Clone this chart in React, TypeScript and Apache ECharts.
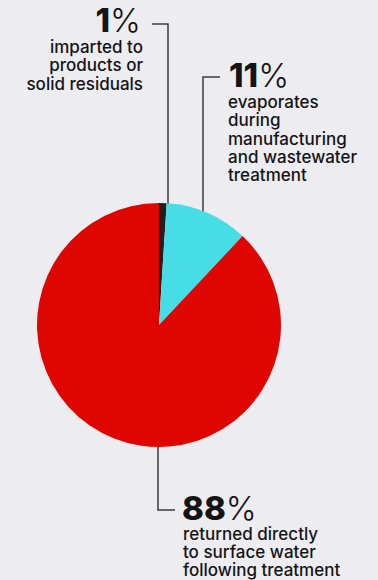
import React, { useEffect, useRef } from "react";
import * as echarts from "echarts";

// Shares of water use (percent)
const categories = ["imparted", "evaporates", "returned"];
const shares = [1, 11, 88];
const sliceColors = ["#231F20", "#47DDE6", "#E00600"];
const descriptions = [
  "imparted to\nproducts or\nsolid residuals",
  "evaporates\nduring\nmanufacturing\nand wastewater\ntreatment",
  "returned directly\nto surface water\nfollowing treatment",
];

const W = 378;
const H = 580;
const CX = 159;
const CY = 325;
const R = 122;

const FONT = "Inter, 'Noto Sans', sans-serif";
const INK = "#141414";
const LINE = "#3c3c3c";

function pctText(value: number, x: number, y: number, align: "left" | "right") {
  return {
    type: "text",
    x,
    y,
    silent: true,
    style: {
      text: `{n|${value}}{p|%}`,
      align,
      verticalAlign: "middle",
      rich: {
        n: { fontFamily: FONT, fontSize: 33, fontWeight: 800, fill: INK, lineHeight: 24 },
        p: { fontFamily: FONT, fontSize: 33, fontWeight: 300, fill: INK, lineHeight: 24 },
      },
    },
  };
}

function descText(text: string, x: number, y: number, align: "left" | "right") {
  return {
    type: "text",
    x,
    y,
    silent: true,
    style: {
      text,
      align,
      verticalAlign: "top",
      fontFamily: FONT,
      fontSize: 17,
      fontWeight: 500,
      lineHeight: 18.3,
      letterSpacing: 0.55,
      fill: INK,
    },
  };
}

function leader(points: number[][]) {
  return {
    type: "polyline",
    silent: true,
    shape: { points },
    style: { stroke: LINE, lineWidth: 1.5, fill: null },
  };
}

export default function App() {
  const ref = useRef<HTMLDivElement>(null);

  useEffect(() => {
    document.body.style.margin = "0";
    if (!ref.current) return;
    const chart = echarts.init(ref.current, null, { renderer: "svg" });
    chart.setOption({
      animation: false,
      backgroundColor: "#EDECF1",
      series: [
        {
          type: "pie",
          center: [CX, CY],
          radius: [0, R],
          startAngle: 90,
          clockwise: true,
          label: { show: false },
          labelLine: { show: false },
          emphasis: { disabled: true },
          itemStyle: { borderWidth: 0 },
          data: categories.map((name, i) => ({
            name,
            value: shares[i],
            itemStyle: { color: sliceColors[i] },
          })),
        },
      ],
      graphic: [
        leader([[152, 24], [168, 24], [168, 204]]),
        leader([[220, 77], [203, 77], [203, 212]]),
        leader([[158, 447], [158, 510], [175, 510]]),
        pctText(shares[0], 141, 20, "right"),
        descText(descriptions[0], 143, 37.8, "right"),
        pctText(shares[1], 229, 75, "left"),
        descText(descriptions[1], 228, 93, "left"),
        pctText(shares[2], 182, 507.5, "left"),
        descText(descriptions[2], 183, 524.5, "left"),
      ],
    });
    return () => chart.dispose();
  }, []);

  return <div ref={ref} style={{ width: W, height: H }} />;
}
